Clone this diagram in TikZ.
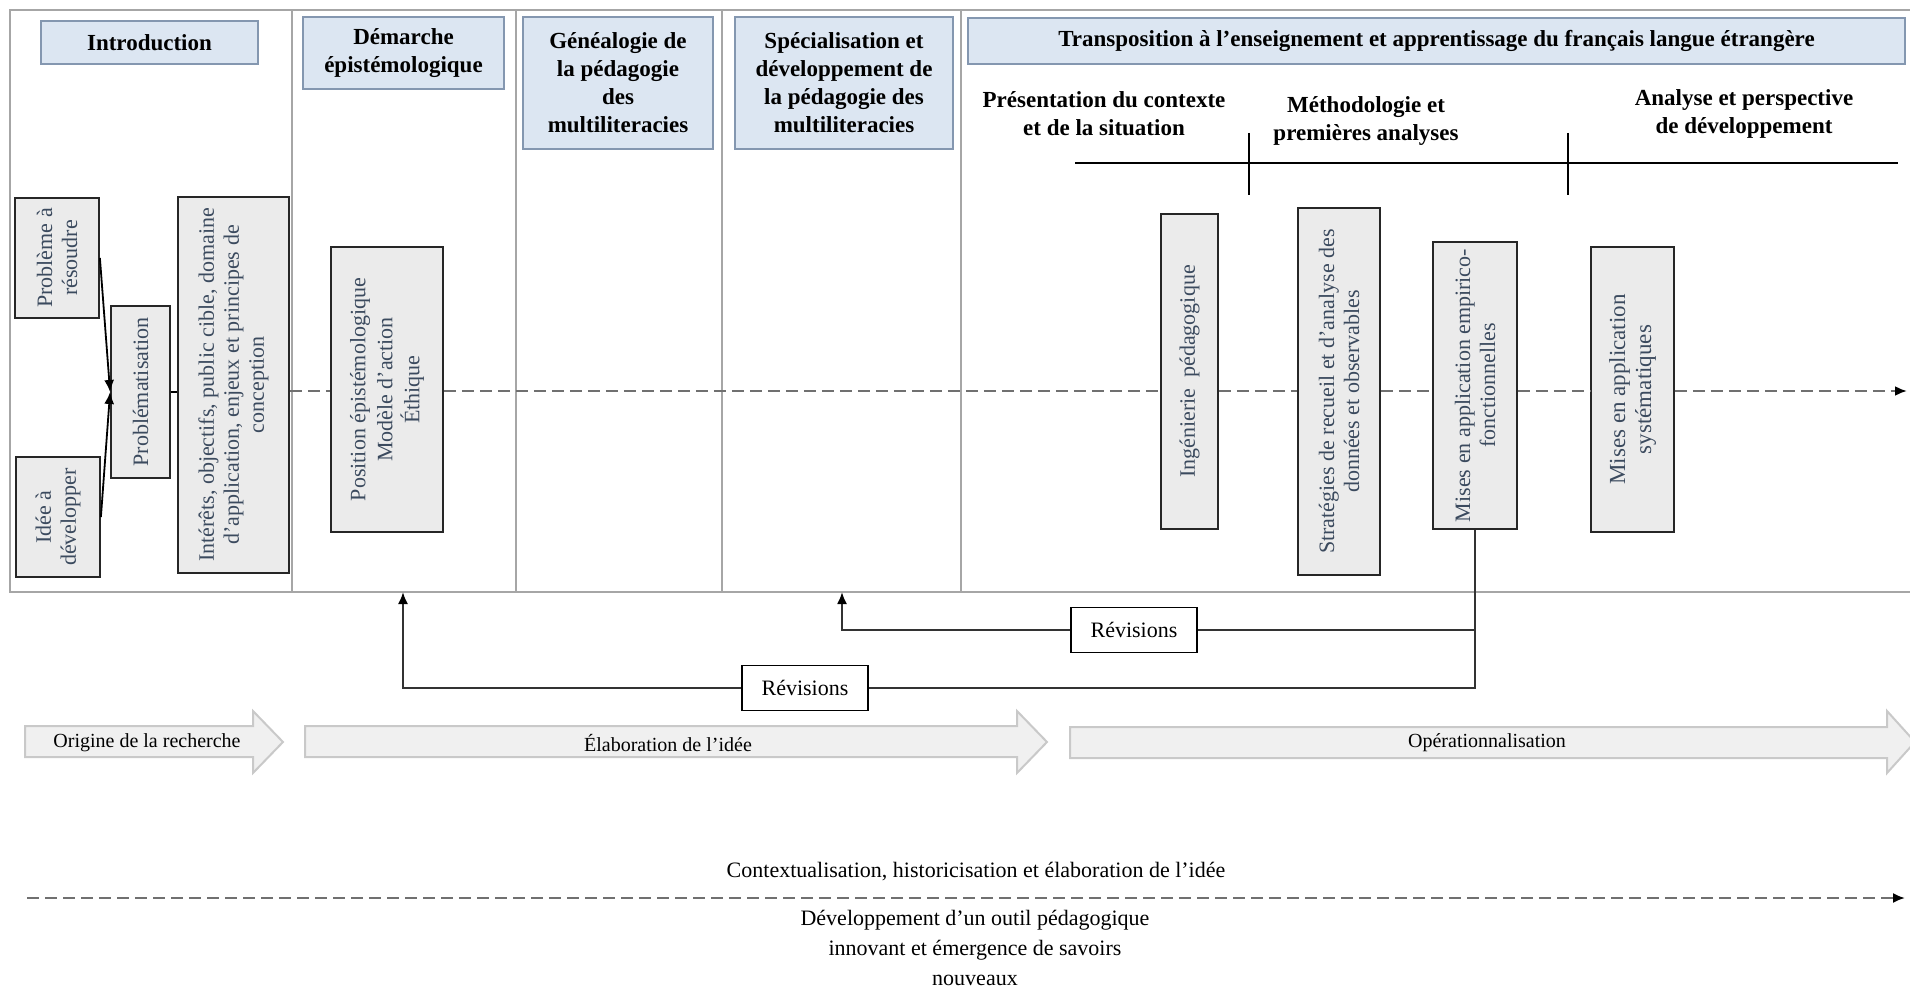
\documentclass[tikz,border=0pt]{standalone}
\usepackage{fontspec}
\setmainfont{Liberation Serif}
\usetikzlibrary{arrows.meta}

\definecolor{hdrfill}{HTML}{DCE6F2}
\definecolor{hdrline}{HTML}{8497B0}
\definecolor{boxfill}{HTML}{EBEBEB}
\definecolor{boxtext}{HTML}{3B4A5E}
\definecolor{framegray}{HTML}{A6A6A6}
\definecolor{dashgray}{HTML}{707070}
\definecolor{bigfill}{HTML}{F0F0F0}
\definecolor{bigline}{HTML}{C9C9C9}

\tikzset{
  header/.style={draw=hdrline, fill=hdrfill, line width=1pt, align=center, inner sep=1pt,
    font=\fontsize{11.5}{14}\selectfont\bfseries},
  subhead/.style={align=center, font=\fontsize{11.5}{14}\selectfont\bfseries},
  vbox/.style={draw=black!85, fill=boxfill, line width=0.9pt, rotate=90, align=center, inner sep=1pt,
    text=boxtext, font=\fontsize{11}{12.5}\selectfont},
  revbox/.style={draw, line width=0.9pt, fill=white, minimum width=63pt, minimum height=22.5pt,
    font=\fontsize{11}{13}\selectfont},
  revline/.style={black!80, line width=1pt},
  dashflow/.style={dashgray, line width=1.4pt, dash pattern=on 6pt off 3pt},
  bigarrow/.style={fill=bigfill, draw=bigline, line width=1pt},
  phasetext/.style={font=\fontsize{10}{12}\selectfont},
  tip/.style={-{Latex[black, length=6pt, width=5pt]}}
}

\begin{document}
\begin{tikzpicture}[x=0.5pt, y=-0.5pt]
\useasboundingbox (0,0) rectangle (1910,989);

% draw the frame and the columns
\draw[framegray, line width=1pt] (1910,10) -- (10,10) -- (10,592) -- (1910,592);
\foreach \x in {292,516,722,961}
\draw[framegray, line width=0.8pt] (\x,10) -- (\x,592);

% draw the column headers
\node[header, minimum width=108.5pt, minimum height=21.5pt] (intro) at (149.5,42.5) {Introduction};
\node[header, minimum width=100.5pt, minimum height=36pt] (demarche) at (403.5,53) {Démarche\\épistémologique};
\node[header, minimum width=95pt, minimum height=66pt] (genea) at (618,83) {Généalogie de\\la pédagogie\\des\\multiliteracies};
\node[header, minimum width=109pt, minimum height=66pt] (specia) at (844,83) {Spécialisation et\\développement de\\la pédagogie des\\multiliteracies};
\node[header, minimum width=468.5pt, minimum height=23pt] (transpo) at (1436.5,41) {Transposition à l'enseignement et apprentissage du français langue étrangère};

% draw the phases of the last column
\node[subhead] (pres) at (1104,114) {Présentation du contexte\\et de la situation};
\node[subhead] (meth) at (1366,121) {Méthodologie et\\premières analyses};
\node[subhead] (anal) at (1744,114) {Analyse et perspective\\de développement};
\draw[line width=1pt] (1075,163) -- (1898,163);
\foreach \x in {1249,1568}
\draw[line width=0.7pt] (\x,133) -- (\x,195);

% draw the vertical boxes
\node[vbox, minimum width=60pt, minimum height=42pt] (prob) at (57,258) {Problème à\\résoudre};
\node[vbox, minimum width=60pt, minimum height=42pt] (idee) at (58,517) {Idée à\\développer};
\node[vbox, minimum width=86pt, minimum height=29.5pt] (probl) at (140.5,392) {Problématisation};
\node[vbox, minimum width=188pt, minimum height=55.5pt] (inter) at (233.5,385) {Intérêts, objectifs, public cible, domaine\\d'application, enjeux et principes de\\conception};
\node[vbox, minimum width=142.5pt, minimum height=56pt, font=\fontsize{11}{13.5}\selectfont] (posi) at (387,389.5) {Position épistémologique\\Modèle d'action\\Éthique};
\node[vbox, minimum width=157.5pt, minimum height=28.5pt] (inge) at (1189.5,371.5) {Ingénierie\ \ pédagogique};
\node[vbox, minimum width=183.5pt, minimum height=41pt] (strat) at (1339,391.5) {Stratégies de recueil et d'analyse des\\données et observables};
\node[vbox, minimum width=143.5pt, minimum height=42pt] (mise1) at (1475,385.5) {Mises en application empirico-\\fonctionnelles};
\node[vbox, minimum width=142.5pt, minimum height=41.5pt, font=\fontsize{11.5}{13}\selectfont] (mise2) at (1632.5,389.5) {Mises en application\\systématiques};

% draw the links of the introduction
\draw[line width=0.9pt, tip] (prob.south) -- (probl.north);
\draw[line width=0.9pt, tip] (idee.south) -- (probl.north);
\draw[line width=0.9pt] (probl.south) -- (probl.south -| inter.north);

% draw the dashed axis
\coordinate (axis) at (0,391);
\coordinate (axisend) at (1907,391);
\draw[dashflow] (inter.south |- axis) -- (posi.north |- axis);
\draw[dashflow] (posi.south |- axis) -- (inge.north |- axis);
\draw[dashflow] (inge.south |- axis) -- (strat.north |- axis);
\draw[dashflow] (strat.south |- axis) -- (mise1.north |- axis);
\draw[dashflow] (mise1.south |- axis) -- (mise2.north |- axis);
\draw[dashflow, tip] (mise2.south |- axis) -- (axisend);

% draw the revisions
\node[revbox] (rev1) at (1134,630) {Révisions};
\node[revbox] (rev2) at (805,688) {Révisions};
\coordinate (up1) at (842,592);
\coordinate (up2) at (403,592);
\draw[revline] (mise1.west) |- (rev2.east);
\draw[revline] (mise1.west) |- (rev1.east);
\draw[revline, tip] (rev1.west) -| (up1);
\draw[revline, tip] (rev2.west) -| (up2);

% draw the block arrows
\draw[bigarrow] (25,726) -- (253,726) -- (253,711) -- (283,742) -- (253,773) -- (253,757) -- (25,757) -- cycle;
\draw[bigarrow] (305,726) -- (1017,726) -- (1017,711) -- (1047,742) -- (1017,773) -- (1017,757) -- (305,757) -- cycle;
\draw[bigarrow] (1070,727) -- (1887,727) -- (1887,711) -- (1915,742) -- (1887,773) -- (1887,758) -- (1070,758) -- cycle;
\node[phasetext] (origine) at (147,743) {Origine de la recherche};
\node[phasetext] (elab) at (668,743) {Élaboration de l'idée};
\node[phasetext] (oper) at (1487,743) {Opérationnalisation};

% draw the bottom axis
\node[font=\fontsize{11}{15}\selectfont] (ctx) at (976,872) {Contextualisation, historicisation et élaboration de l'idée};
\coordinate (bl) at (27,898);
\coordinate (br) at (1905,898);
\draw[dashgray, line width=1pt, dash pattern=on 6pt off 3pt, tip] (bl) -- (br);
\node[font=\fontsize{11}{15}\selectfont, align=center] (dev) at (975,947.5) {Développement d'un outil pédagogique\\innovant et émergence de savoirs\\nouveaux};

\end{tikzpicture}
\end{document}
